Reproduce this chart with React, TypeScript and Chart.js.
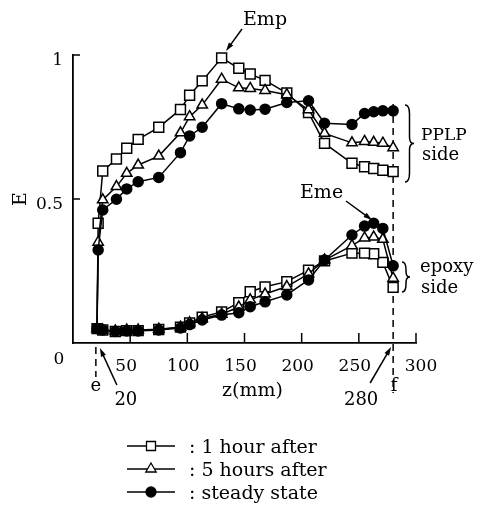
import React, { useEffect, useRef } from "react";
import { Chart, registerables } from "chart.js";

Chart.register(...registerables);

// z positions (mm) of the measurement points on each side of the interface
const pplpZ = [22, 26, 38, 47, 57, 75, 94, 102, 113, 130, 145, 155, 168, 187, 206, 220, 244, 255, 263, 271, 280];
const epoxyZ = [21, 26, 37, 47, 57, 75, 94, 102, 113, 130, 145, 155, 168, 187, 206, 220, 244, 255, 263, 271, 280];

// E on the PPLP side
const pplpHour1 = [0.416, 0.597, 0.639, 0.676, 0.707, 0.749, 0.811, 0.86, 0.91, 0.99, 0.954, 0.934, 0.912, 0.868, 0.8, 0.693, 0.624, 0.612, 0.606, 0.6, 0.595];
const pplpHour5 = [0.35, 0.497, 0.543, 0.589, 0.618, 0.649, 0.73, 0.786, 0.826, 0.916, 0.886, 0.884, 0.877, 0.862, 0.81, 0.728, 0.695, 0.7, 0.697, 0.694, 0.678];
const pplpSteady = [0.323, 0.462, 0.499, 0.535, 0.56, 0.575, 0.661, 0.719, 0.749, 0.831, 0.813, 0.809, 0.812, 0.835, 0.841, 0.763, 0.759, 0.797, 0.803, 0.806, 0.806];

// E on the epoxy side
const epoxyHour1 = [0.05, 0.045, 0.04, 0.043, 0.043, 0.047, 0.055, 0.07, 0.09, 0.108, 0.14, 0.178, 0.195, 0.213, 0.253, 0.285, 0.312, 0.312, 0.31, 0.28, 0.193];
const epoxyHour5 = [0.05, 0.045, 0.042, 0.045, 0.045, 0.048, 0.055, 0.07, 0.085, 0.1, 0.125, 0.15, 0.17, 0.196, 0.24, 0.288, 0.338, 0.365, 0.368, 0.36, 0.225];
const epoxySteady = [0.05, 0.045, 0.04, 0.042, 0.042, 0.045, 0.052, 0.064, 0.08, 0.097, 0.105, 0.126, 0.143, 0.167, 0.219, 0.288, 0.375, 0.406, 0.416, 0.398, 0.268];

const seriesLabels = ["1 hour after", "5 hours after", "steady state"];
const xTicks = [50, 100, 150, 200, 250, 300];
const yTicks = [0.5, 1];

const SERIF = '"DejaVu Serif", "Liberation Serif", serif';

// epoxy side walked from f back to e, then the PPLP side from e out to f
function path(epoxy: number[], pplp: number[]) {
  const ep = epoxyZ.map((z, i) => ({ x: z, y: epoxy[i] })).reverse();
  const pp = pplpZ.map((z, i) => ({ x: z, y: pplp[i] }));
  return [...ep, ...pp];
}

function arrow(ctx: CanvasRenderingContext2D, x1: number, y1: number, x2: number, y2: number) {
  const a = Math.atan2(y2 - y1, x2 - x1);
  const head = 9;
  ctx.beginPath();
  ctx.moveTo(x1, y1);
  ctx.lineTo(x2 - Math.cos(a) * head * 0.6, y2 - Math.sin(a) * head * 0.6);
  ctx.stroke();
  ctx.beginPath();
  ctx.moveTo(x2, y2);
  ctx.lineTo(x2 - head * Math.cos(a - 0.3), y2 - head * Math.sin(a - 0.3));
  ctx.lineTo(x2 - head * Math.cos(a + 0.3), y2 - head * Math.sin(a + 0.3));
  ctx.closePath();
  ctx.fill();
}

function brace(ctx: CanvasRenderingContext2D, x: number, y1: number, y2: number, w: number) {
  const mid = (y1 + y2) / 2;
  const h = w / 2;
  ctx.beginPath();
  ctx.moveTo(x, y1);
  ctx.quadraticCurveTo(x + h, y1, x + h, y1 + w);
  ctx.lineTo(x + h, mid - w * 0.7);
  ctx.quadraticCurveTo(x + h, mid, x + w, mid);
  ctx.quadraticCurveTo(x + h, mid, x + h, mid + w * 0.7);
  ctx.lineTo(x + h, y2 - w);
  ctx.quadraticCurveTo(x + h, y2, x, y2);
  ctx.stroke();
}

function marker(ctx: CanvasRenderingContext2D, style: string, x: number, y: number) {
  ctx.beginPath();
  if (style === "rect") {
    ctx.rect(x - 4.5, y - 4.5, 9, 9);
    ctx.fillStyle = "#fff";
  } else if (style === "triangle") {
    ctx.moveTo(x, y - 6);
    ctx.lineTo(x + 5.2, y + 3);
    ctx.lineTo(x - 5.2, y + 3);
    ctx.closePath();
    ctx.fillStyle = "#fff";
  } else {
    ctx.arc(x, y, 5, 0, Math.PI * 2);
    ctx.fillStyle = "#000";
  }
  ctx.fill();
  ctx.stroke();
}

const decorations = {
  id: "decorations",
  beforeDatasetsDraw(chart: any) {
    const { ctx } = chart;
    const xs = chart.scales.x;
    const ys = chart.scales.y;
    ctx.save();
    ctx.strokeStyle = "#000";
    ctx.lineWidth = 1.5;
    ctx.setLineDash([7, 5]);
    const xe = xs.getPixelForValue(20);
    const xf = xs.getPixelForValue(280);
    ctx.beginPath();
    ctx.moveTo(xe, ys.bottom + 4);
    ctx.lineTo(xe, ys.bottom + 34);
    ctx.stroke();
    ctx.beginPath();
    ctx.moveTo(xf, ys.getPixelForValue(0.83));
    ctx.lineTo(xf, ys.bottom + 50);
    ctx.stroke();
    ctx.restore();
  },
  afterDraw(chart: any) {
    const { ctx } = chart;
    const xs = chart.scales.x;
    const ys = chart.scales.y;
    ctx.save();
    ctx.strokeStyle = "#000";
    ctx.fillStyle = "#000";
    ctx.lineWidth = 1.5;

    // inward tick marks
    for (const v of xTicks) {
      const px = xs.getPixelForValue(v);
      ctx.beginPath();
      ctx.moveTo(px, ys.bottom);
      ctx.lineTo(px, ys.bottom - 10);
      ctx.stroke();
    }
    for (const v of yTicks) {
      const py = ys.getPixelForValue(v);
      ctx.beginPath();
      ctx.moveTo(xs.left, py);
      ctx.lineTo(xs.left + 7, py);
      ctx.stroke();
    }

    // tick labels
    ctx.font = `17px ${SERIF}`;
    ctx.textBaseline = "alphabetic";
    ctx.textAlign = "center";
    for (const v of xTicks) {
      const px = xs.getPixelForValue(v) + (v === 300 ? 5 : -4);
      ctx.fillText(String(v), px, ys.bottom + 28);
    }
    ctx.fillText("0", xs.left - 14, ys.bottom + 21);
    ctx.textAlign = "right";
    for (const v of yTicks) {
      ctx.fillText(String(v), xs.left - 10, ys.getPixelForValue(v) + 10);
    }

    // axis titles
    ctx.font = `19px ${SERIF}`;
    ctx.textAlign = "center";
    ctx.fillText("z(mm)", (xs.left + xs.right) / 2 + 8, ys.bottom + 53);
    ctx.save();
    ctx.translate(xs.left - 52, ys.getPixelForValue(0.5));
    ctx.rotate(-Math.PI / 2);
    ctx.textBaseline = "middle";
    ctx.fillText("E", 0, 0);
    ctx.restore();

    // interface markers e (z = 20) and f (z = 280)
    const xe = xs.getPixelForValue(20);
    const xf = xs.getPixelForValue(280);
    ctx.font = `18px ${SERIF}`;
    ctx.fillText("e", xe, ys.bottom + 48);
    ctx.fillText("f", xf + 1, ys.bottom + 48);
    ctx.fillText("20", xe + 30, ys.bottom + 62);
    ctx.fillText("280", xf - 32, ys.bottom + 62);
    arrow(ctx, xe + 21, ys.bottom + 42, xe + 4, ys.bottom + 5);
    arrow(ctx, xf - 23, ys.bottom + 40, xf - 2, ys.bottom + 4);

    // peak labels
    ctx.font = `19px ${SERIF}`;
    ctx.textAlign = "left";
    ctx.fillText("Emp", 243, 25);
    arrow(ctx, 242, 29, 226, 51);
    ctx.fillText("Eme", 300, 198);
    arrow(ctx, 346, 201, 372, 220);

    // side labels
    ctx.lineWidth = 1.5;
    brace(ctx, 405, 105, 182, 9);
    ctx.font = `17px ${SERIF}`;
    ctx.fillText("PPLP", 421, 140);
    ctx.font = `18px ${SERIF}`;
    ctx.fillText("side", 422, 160);
    brace(ctx, 402, 262, 292, 8);
    ctx.fillText("epoxy", 420, 272);
    ctx.fillText("side", 421, 293);

    // legend
    const styles = ["rect", "triangle", "circle"];
    const rows = [446, 469, 492];
    ctx.font = `19px ${SERIF}`;
    ctx.lineWidth = 1.3;
    styles.forEach((s, i) => {
      const y = rows[i];
      ctx.beginPath();
      ctx.moveTo(127, y);
      ctx.lineTo(175, y);
      ctx.stroke();
      marker(ctx, s, 151, y);
      ctx.fillStyle = "#000";
      ctx.fillText(": " + seriesLabels[i], 189, y + 7);
    });
    ctx.restore();
  },
};

export default function App() {
  const ref = useRef<HTMLCanvasElement | null>(null);

  useEffect(() => {
    if (!ref.current) return;
    const common = {
      borderColor: "#000",
      borderWidth: 1.5,
      pointBorderColor: "#000",
      pointBorderWidth: 1.5,
      tension: 0,
      clip: false as const,
    };
    const chart = new Chart(ref.current, {
      type: "line",
      data: {
        datasets: [
          {
            ...common,
            label: seriesLabels[2],
            data: path(epoxySteady, pplpSteady),
            pointStyle: "circle",
            pointRadius: 5,
            pointBackgroundColor: "#000",
            order: 0,
          },
          {
            ...common,
            label: seriesLabels[1],
            data: path(epoxyHour5, pplpHour5),
            pointStyle: "triangle",
            pointRadius: 6,
            pointBackgroundColor: "#fff",
            order: 1,
          },
          {
            ...common,
            label: seriesLabels[0],
            data: path(epoxyHour1, pplpHour1),
            pointStyle: "rect",
            pointRadius: 7,
            pointBackgroundColor: "#fff",
            order: 2,
          },
        ],
      },
      options: {
        animation: false,
        responsive: false,
        devicePixelRatio: 1,
        layout: { autoPadding: false, padding: { left: 73, right: 65, top: 55, bottom: 163 } },
        plugins: { legend: { display: false }, tooltip: { enabled: false } },
        scales: {
          x: {
            type: "linear",
            min: 0,
            max: 300,
            grid: { display: false, drawTicks: false, tickLength: 0 },
            ticks: { display: false },
            border: { display: true, color: "#000", width: 1.8 },
          },
          y: {
            type: "linear",
            min: 0,
            max: 1,
            grid: { display: false, drawTicks: false, tickLength: 0 },
            ticks: { display: false },
            border: { display: true, color: "#000", width: 1.8 },
          },
        },
      },
      plugins: [decorations],
    });
    return () => chart.destroy();
  }, []);

  return (
    <div style={{ position: "fixed", left: 0, top: 0, width: 481, height: 506, background: "#fff" }}>
      <canvas ref={ref} width={481} height={506} />
    </div>
  );
}
